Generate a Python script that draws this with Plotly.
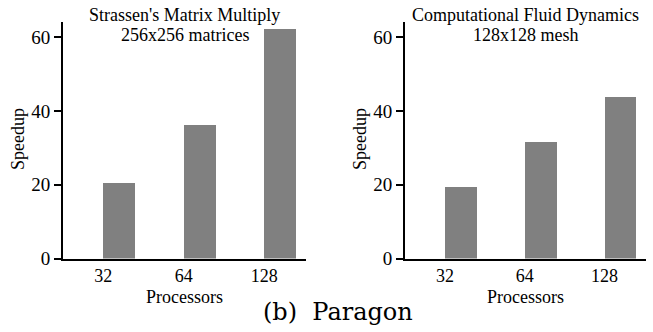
import plotly.graph_objects as go

W, H = 653, 332

categories = ["32", "64", "128"]
strassen_speedup = [20.6, 36.1, 62.2]
cfd_speedup = [19.5, 31.7, 43.9]
y_ticks = [0, 20, 40, 60]

titles = [("Strassen's Matrix Multiply", "256x256 matrices"),
          ("Computational Fluid Dynamics", "128x128 mesh")]

def px(x):
    return x / W

def py(y):
    return 1 - y / H

serif = "Liberation Serif, Times New Roman, serif"
fig = go.Figure()

panels = [
    dict(vals=strassen_speedup, x0=63, x1=306, ylab=18),
    dict(vals=cfd_speedup, x0=405, x1=646, ylab=360),
]
y_top, y_bot = 22, 258.5

def ann(x, y, text, size=18, family=serif, angle=0):
    fig.add_annotation(x=px(x), y=py(y), xref="paper", yref="paper",
                       xanchor="center", yanchor="middle",
                       text=text, showarrow=False, textangle=angle,
                       font=dict(family=family, size=size, color="black"))

for i, p in enumerate(panels):
    xa = "x" if i == 0 else "x2"
    ya = "y" if i == 0 else "y2"
    fig.add_trace(go.Bar(
        x=list(range(len(categories))), y=p["vals"], xaxis=xa, yaxis=ya,
        marker=dict(color="#808080", line=dict(width=0)),
        width=0.4, offset=0, showlegend=False, hoverinfo="skip"))
    suffix = "" if i == 0 else "2"
    fig.layout["xaxis" + suffix] = dict(
        domain=[px(p["x0"]), px(p["x1"])], range=[-0.5, 2.52],
        tickvals=list(range(len(categories))), ticktext=categories,
        showline=True, linecolor="black", linewidth=2, ticks="",
        showgrid=False, zeroline=False, anchor=ya, fixedrange=True,
        automargin=False,
        tickfont=dict(family=serif, size=18, color="black"))
    fig.layout["yaxis" + suffix] = dict(
        domain=[py(y_bot), py(y_top)], range=[0, 64.1],
        tickvals=y_ticks, showline=True, linecolor="black", linewidth=2,
        ticks="outside", ticklen=7, tickwidth=1.5, tickcolor="black",
        showgrid=False, zeroline=False, anchor=xa, fixedrange=True,
        automargin=False,
        tickfont=dict(family=serif, size=19, color="black"))
    cx = (p["x0"] + p["x1"]) / 2
    ann(cx, 15, titles[i][0])
    ann(cx, 35, titles[i][1])
    ann(cx, 297, "Processors")
    ann(p["ylab"], 139, "Speedup", angle=-90)

ann(338, 312, "(b)  Paragon", size=24, family="DejaVu Serif, serif")

fig.update_layout(width=W, height=H, margin=dict(l=0, r=0, t=0, b=0),
                  paper_bgcolor="white", plot_bgcolor="white", bargap=0)

fig.write_html("out.html", config={"displayModeBar": False},
               post_script="document.body.style.margin='0';document.body.style.overflow='hidden';")
